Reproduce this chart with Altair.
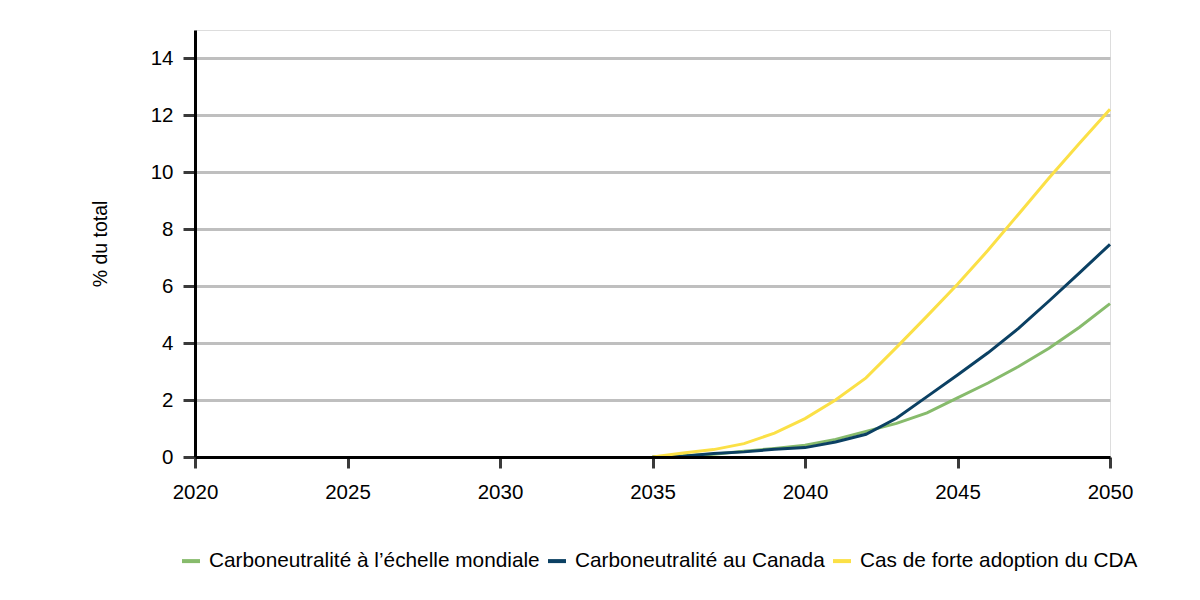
import altair as alt
import pandas as pd

years = list(range(2035, 2051))
mondiale = [0.0, 0.04, 0.1, 0.2, 0.3, 0.41, 0.62, 0.9, 1.18, 1.55, 2.08, 2.6, 3.18, 3.82, 4.56, 5.39]
canada = [0.0, 0.03, 0.12, 0.18, 0.27, 0.33, 0.53, 0.8, 1.36, 2.12, 2.88, 3.66, 4.52, 5.48, 6.47, 7.47]
cda = [0.0, 0.14, 0.26, 0.47, 0.84, 1.35, 2.0, 2.78, 3.85, 4.95, 6.07, 7.26, 8.53, 9.8, 11.02, 12.22]

series_names = [
    "Carboneutralité à l’échelle mondiale",
    "Carboneutralité au Canada",
    "Cas de forte adoption du CDA",
]
series_colors = ["#87bb6c", "#0b4063", "#fbe046"]
y_ticks = [0, 2, 4, 6, 8, 10, 12, 14]
x_ticks = [2020, 2025, 2030, 2035, 2040, 2045, 2050]

rows = []
for name, vals in zip(series_names, [mondiale, canada, cda]):
    for yr, v in zip(years, vals):
        rows.append({"year": yr, "value": v, "series": name})
df = pd.DataFrame(rows)

FONT = "Liberation Sans"

chart = alt.Chart(df).mark_line(strokeWidth=3).encode(
    x=alt.X("year:Q",
            scale=alt.Scale(domain=[2020, 2050], nice=False, zero=False),
            axis=alt.Axis(values=x_ticks, format="d", title=None, grid=False,
                          domainColor="#000000", domainWidth=3,
                          tickColor="#3a3a3a", tickWidth=3, tickSize=11,
                          labelPadding=14, labelFontSize=20.5, labelColor="#000000",
                          labelFont=FONT, labelFlush=False, zindex=1)),
    y=alt.Y("value:Q",
            scale=alt.Scale(domain=[0, 15], nice=False),
            axis=alt.Axis(values=y_ticks, title="% du total", grid=True,
                          gridColor="#bfbfbf", gridWidth=3,
                          domainColor="#000000", domainWidth=3,
                          tickColor="#3a3a3a", tickWidth=3, tickSize=12,
                          labelPadding=10, labelFontSize=20.5, labelColor="#000000",
                          labelFont=FONT, titleFont=FONT, titleFontSize=19.5,
                          titleFontWeight="normal", titleColor="#000000",
                          titlePadding=40)),
    color=alt.Color("series:N",
                    scale=alt.Scale(domain=series_names, range=series_colors),
                    sort=series_names,
                    legend=alt.Legend(title=None, orient="none", direction="horizontal",
                                      legendX=-15, legendY=520,
                                      symbolType="stroke", symbolSize=324,
                                      symbolStrokeWidth=4, labelFontSize=20.8,
                                      labelFont=FONT, labelColor="#000000",
                                      labelOffset=7, columnPadding=0,
                                      labelLimit=450)),
    order=alt.Order("series:N"),
).properties(
    width=915,
    height=427,
    autosize=alt.AutoSizeParams(type="none"),
    padding={"left": 187, "top": 22, "right": 80, "bottom": 140},
).configure_view(stroke=None).configure(background="#ffffff")

chart.save("out.html", embed_options={"renderer": "svg", "actions": False})
